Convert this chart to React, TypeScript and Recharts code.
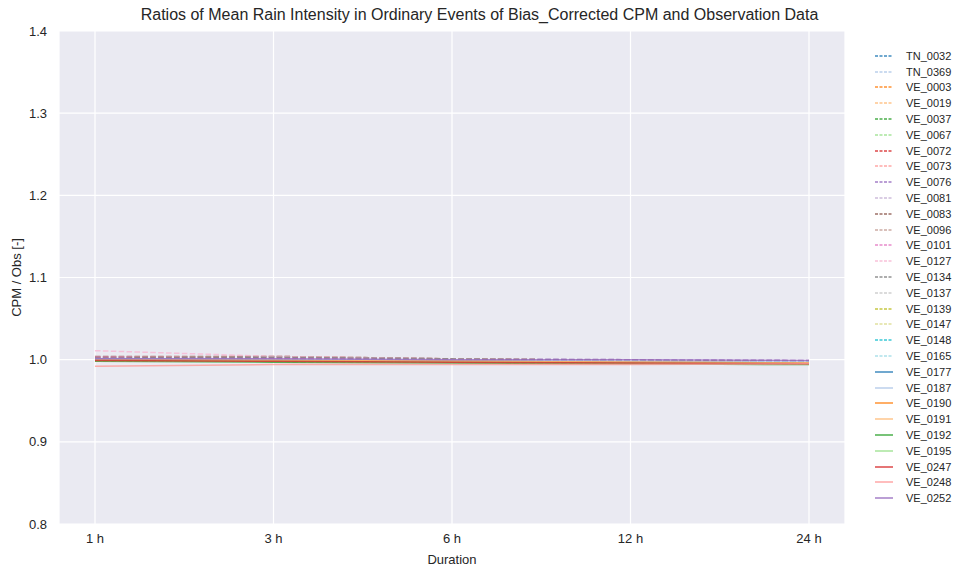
import React from 'react';
import { LineChart, Line, XAxis, YAxis, CartesianGrid } from 'recharts';

const durations = ['1 h', '3 h', '6 h', '12 h', '24 h'];
const yTicks = [0.8, 0.9, 1.0, 1.1, 1.2, 1.3, 1.4];

const stations = [
  'TN_0032', 'TN_0369', 'VE_0003', 'VE_0019', 'VE_0037', 'VE_0067', 'VE_0072', 'VE_0073',
  'VE_0076', 'VE_0081', 'VE_0083', 'VE_0096', 'VE_0101', 'VE_0127', 'VE_0134', 'VE_0137',
  'VE_0139', 'VE_0147', 'VE_0148', 'VE_0165', 'VE_0177', 'VE_0187', 'VE_0190', 'VE_0191',
  'VE_0192', 'VE_0195', 'VE_0247', 'VE_0248', 'VE_0252',
];

const TN_0032 = [1.001, 1.000, 0.999, 0.998, 0.997];
const TN_0369 = [1.002, 1.001, 0.999, 0.998, 0.997];
const VE_0003 = [1.000, 0.999, 0.998, 0.997, 0.996];
const VE_0019 = [1.001, 1.000, 0.998, 0.997, 0.996];
const VE_0037 = [0.999, 0.998, 0.997, 0.996, 0.995];
const VE_0067 = [0.999, 0.998, 0.997, 0.996, 0.995];
const VE_0072 = [1.000, 0.999, 0.998, 0.997, 0.996];
const VE_0073 = [1.000, 0.999, 0.998, 0.997, 0.996];
const VE_0076 = [1.002, 1.002, 1.001, 1.000, 0.999];
const VE_0081 = [1.003, 1.003, 1.001, 1.000, 0.999];
const VE_0083 = [1.004, 1.004, 1.001, 0.999, 0.998];
const VE_0096 = [1.003, 1.004, 1.001, 0.999, 0.998];
const VE_0101 = [1.003, 1.002, 1.000, 0.999, 0.998];
const VE_0127 = [1.011, 1.004, 1.001, 0.999, 0.998];
const VE_0134 = [1.002, 1.003, 1.001, 0.999, 0.998];
const VE_0137 = [1.001, 1.000, 0.999, 0.998, 0.997];
const VE_0139 = [1.000, 0.999, 0.998, 0.997, 0.996];
const VE_0147 = [1.000, 0.999, 0.998, 0.997, 0.996];
const VE_0148 = [1.000, 0.999, 0.998, 0.997, 0.996];
const VE_0165 = [1.001, 1.000, 0.999, 0.998, 0.997];
const VE_0177 = [1.000, 0.999, 0.998, 0.997, 0.996];
const VE_0187 = [1.001, 1.000, 0.999, 0.998, 0.997];
const VE_0190 = [1.000, 0.999, 0.998, 0.997, 0.996];
const VE_0191 = [1.000, 0.999, 0.998, 0.997, 0.996];
const VE_0192 = [0.998, 0.997, 0.996, 0.995, 0.994];
const VE_0195 = [0.999, 0.998, 0.997, 0.996, 0.995];
const VE_0247 = [0.999, 0.998, 0.997, 0.996, 0.995];
const VE_0248 = [0.992, 0.994, 0.994, 0.994, 0.995];
const VE_0252 = [1.001, 1.001, 1.000, 1.000, 0.999];

const seriesValues = [
  TN_0032, TN_0369, VE_0003, VE_0019, VE_0037, VE_0067, VE_0072, VE_0073,
  VE_0076, VE_0081, VE_0083, VE_0096, VE_0101, VE_0127, VE_0134, VE_0137,
  VE_0139, VE_0147, VE_0148, VE_0165, VE_0177, VE_0187, VE_0190, VE_0191,
  VE_0192, VE_0195, VE_0247, VE_0248, VE_0252,
];

const palette = [
  '#1f77b4', '#aec7e8', '#ff7f0e', '#ffbb78', '#2ca02c', '#98df8a', '#d62728', '#ff9896',
  '#9467bd', '#c5b0d5', '#8c564b', '#c49c94', '#e377c2', '#f7b6d2', '#7f7f7f', '#c7c7c7',
  '#bcbd22', '#dbdb8d', '#17becf', '#9edae5',
];

const data = durations.map((d, i) => {
  const row: Record<string, number | string> = { duration: d };
  stations.forEach((s, k) => {
    row[s] = seriesValues[k][i];
  });
  return row;
});

const FONT = '"Liberation Sans", Arial, sans-serif';

const LegendBox = () => (
  <div style={{ position: 'absolute', left: 874, top: 48, width: 85, fontFamily: FONT, fontSize: 11, color: '#262626' }}>
    {stations.map((s, k) => (
      <div key={s} style={{ display: 'flex', alignItems: 'center', height: 15.8 }}>
        <svg width={20} height={6} style={{ marginRight: 12 }}>
          <line
            x1={1}
            y1={3}
            x2={19}
            y2={3}
            stroke={palette[k % 20]}
            strokeWidth={1.5}
            strokeOpacity={0.85}
            strokeDasharray={k < 20 ? '3 1.5' : undefined}
          />
        </svg>
        <span>{s}</span>
      </div>
    ))}
  </div>
);

export default function App() {
  return (
    <div style={{ position: 'absolute', left: 0, top: 0, width: 959, height: 567, background: '#fff', fontFamily: FONT }}>
      <div
        style={{
          position: 'absolute',
          left: 0,
          width: 959,
          top: 6,
          textAlign: 'center',
          fontSize: 16,
          color: '#262626',
        }}
      >
        Ratios of Mean Rain Intensity in Ordinary Events of Bias_Corrected CPM and Observation Data
      </div>
      <LineChart
        width={959}
        height={567}
        data={data}
        margin={{ top: 31, right: 114, bottom: 0, left: 0 }}
      >
        <CartesianGrid fill="#EAEAF2" stroke="#ffffff" strokeWidth={1.2} />
        <XAxis
          dataKey="duration"
          scale="point"
          padding={{ left: 36, right: 36 }}
          axisLine={false}
          tickLine={false}
          height={43}
          tick={{ fill: '#262626', fontSize: 13, fontFamily: FONT }}
          tickMargin={4}
          label={{ value: 'Duration', position: 'insideBottom', offset: 3, fill: '#262626', fontSize: 13, fontFamily: FONT }}
        />
        <YAxis
          type="number"
          domain={[0.8, 1.4]}
          ticks={yTicks}
          tickFormatter={(v: number) => v.toFixed(1)}
          axisLine={false}
          tickLine={false}
          width={59}
          tickMargin={6}
          tick={{ fill: '#262626', fontSize: 13, fontFamily: FONT }}
          label={{
            value: 'CPM / Obs [-]',
            angle: -90,
            position: 'insideLeft',
            offset: 16,
            style: { textAnchor: 'middle' },
            fill: '#262626',
            fontSize: 13,
            fontFamily: FONT,
          }}
        />
        {stations.map((s, k) => (
          <Line
            key={s}
            dataKey={s}
            type="linear"
            stroke={palette[k % 20]}
            strokeWidth={1.5}
            strokeOpacity={0.8}
            strokeDasharray={k < 20 ? '5.5 2.4' : undefined}
            dot={false}
            activeDot={false}
            isAnimationActive={false}
          />
        ))}
      </LineChart>
      <LegendBox />
    </div>
  );
}
